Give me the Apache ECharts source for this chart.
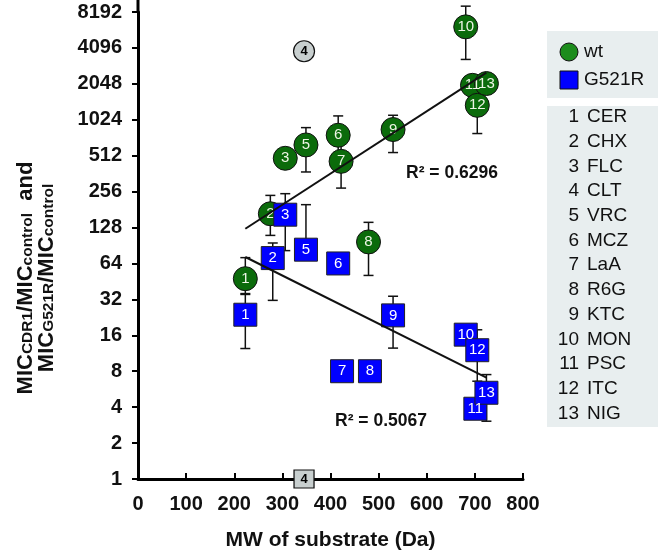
<!DOCTYPE html>
<html><head><meta charset="utf-8">
<script src="https://cdn.jsdelivr.net/npm/echarts@6/dist/echarts.min.js"></script>
<style>html,body{margin:0;padding:0;background:#fff}#c{width:666px;height:553px}</style>
</head><body><div id="c"></div>
<script>
// ---- data ----
const pointLabels = ['1','2','3','4','5','6','7','8','9','10','11','12','13'];
const compoundNames = ['CER','CHX','FLC','CLT','VRC','MCZ','LaA','R6G','KTC','MON','PSC','ITC','NIG'];
const grayIndex = 3; // CLT drawn in grey
const wtMW  = [223, 275, 306, 345, 349, 416, 422, 479, 530, 681, 695, 705, 724];
const wtMIC = [47.7, 167, 487, 3840, 630, 760, 459, 97, 848, 6150, 1990, 1353, 2060];
const wtErrHigh = [71.6, 238, null, null, 880, 1103, 644, 141.5, 1117, 9170, null, 1921, null];
const wtErrLow  = [35.2, 110, null, null, 374, 417, 274, 50.8, 544, 3280, null, 785, null];
const mutMW  = [223, 280, 306, 345, 349, 416, 424, 482, 530, 681, 701, 705, 724];
const mutMIC = [23.8, 71, 164, 1, 83.5, 64, 8, 8, 23.5, 16.2, 3.88, 12, 5.28];
const mutErrHigh = [35.8, 95, 246, null, 199, null, null, null, 34, null, null, 17.8, 7.5];
const mutErrLow  = [12.4, 31.4, 82, null, null, null, null, null, 12.5, null, null, 6.6, 3.05];
const wtTrendMW = [223, 724];
const wtTrendMIC = [125, 2545];
const mutTrendMW = [223, 724];
const mutTrendMIC = [72.5, 7.06];
const r2Labels = ['R\u00b2 = 0.6296', 'R\u00b2 = 0.5067'];
const seriesNames = ['wt', 'G521R'];
const yMin = 1, yMax = 8192;
const xMin = 0, xMax = 800, xStep = 100;

// ---- styles ----
const FONT = 'Liberation Sans, Arial, Helvetica, sans-serif';
const GREEN = '#0b6b0b', GREEN_LEG = '#1c8c1c', BLUE = '#0000ff', GRAY = '#c8cfcf';

const chart = echarts.init(document.getElementById('c'), null, {renderer: 'canvas'});

function pointData(mw, mic, isWt) {
  return mw.map((x, i) => {
    const gray = i === grayIndex;
    return {
      value: [x, mic[i]],
      name: pointLabels[i],
      itemStyle: gray ? {color: GRAY, borderColor: '#111', borderWidth: 1.2} : undefined,
      symbolSize: gray ? (isWt ? 21 : [20, 18]) : undefined,
      label: gray ? {color: '#000', fontWeight: 'bold', fontSize: 13} : undefined
    };
  });
}

function errSeries(mw, mic, hi, lo) {
  return {
    type: 'custom',
    z: 1,
    clip: false,
    silent: true,
    data: mw.map((x, i) => [x, mic[i]]),
    renderItem: function (params, api) {
      const i = params.dataIndex;
      const children = [];
      const c = api.coord([mw[i], mic[i]]);
      const cap = 5;
      [hi[i], lo[i]].forEach(v => {
        if (v == null) return;
        const p = api.coord([mw[i], v]);
        children.push({type: 'line', shape: {x1: c[0], y1: c[1], x2: p[0], y2: p[1]}, style: {stroke: '#111', lineWidth: 1.5}});
        children.push({type: 'line', shape: {x1: p[0] - cap, y1: p[1], x2: p[0] + cap, y2: p[1]}, style: {stroke: '#111', lineWidth: 1.5}});
      });
      return {type: 'group', children};
    }
  };
}

// legend graphics
const legendX = 547, legendW = 111;
const LFONT = '19px ' + FONT;
const graphics = [
  {type: 'rect', shape: {x: legendX, y: 31, width: legendW, height: 67}, style: {fill: '#e8eeef'}, z: 0},
  {type: 'circle', shape: {cx: 569, cy: 52, r: 9}, style: {fill: GREEN_LEG, stroke: '#111', lineWidth: 1}},
  {type: 'text', x: 584, y: 52, style: {text: seriesNames[0], font: LFONT, fill: '#111', textVerticalAlign: 'middle'}},
  {type: 'rect', shape: {x: 560, y: 71, width: 18, height: 18}, style: {fill: BLUE, stroke: '#111', lineWidth: 1}},
  {type: 'text', x: 584, y: 80, style: {text: seriesNames[1], font: LFONT, fill: '#111', textVerticalAlign: 'middle'}},
  {type: 'rect', shape: {x: legendX, y: 106, width: legendW, height: 321}, style: {fill: '#e8eeef'}, z: 0}
];
compoundNames.forEach((n, i) => {
  const y = 117 + i * 24.7;
  graphics.push({type: 'text', x: 579, y: y, style: {text: pointLabels[i], font: LFONT, fill: '#111', textAlign: 'right', textVerticalAlign: 'middle'}});
  graphics.push({type: 'text', x: 587, y: y, style: {text: n, font: LFONT, fill: '#111', textAlign: 'left', textVerticalAlign: 'middle'}});
});
// R² annotations
graphics.push({type: 'text', x: 452, y: 173, style: {text: r2Labels[0], font: 'bold 17.5px ' + FONT, fill: '#111', textAlign: 'center', textVerticalAlign: 'middle'}});
graphics.push({type: 'text', x: 381, y: 421, style: {text: r2Labels[1], font: 'bold 17.5px ' + FONT, fill: '#111', textAlign: 'center', textVerticalAlign: 'middle'}});
// y-axis title (rotated, with subscripts)
graphics.push({
  type: 'text', x: 36, y: 278, rotation: Math.PI / 2,
  style: {
    text: '{m|MIC}{s|CDR1}{m|/MIC}{s|control}{m|  and}\n{m|MIC}{s|G521R}{m|/MIC}{s|control}',
    textAlign: 'center', textVerticalAlign: 'middle', fill: '#111',
    rich: {
      m: {fontSize: 22, fontWeight: 'bold', fontFamily: FONT, lineHeight: 21, fill: '#111'},
      s: {fontSize: 15.5, fontWeight: 'bold', fontFamily: FONT, lineHeight: 13, verticalAlign: 'bottom', fill: '#111'}
    }
  }
});
// axis line extension above top tick
graphics.push({type: 'line', shape: {x1: 138, y1: 0, x2: 138, y2: 12}, style: {stroke: '#000', lineWidth: 3}});

const option = {
  animation: false,
  backgroundColor: '#fff',
  textStyle: {fontFamily: FONT},
  grid: {left: 138, right: 143, top: 12, bottom: 74, containLabel: false, outerBoundsMode: 'none'},
  xAxis: {
    type: 'value', min: xMin, max: xMax, interval: xStep,
    name: 'MW of substrate (Da)', nameLocation: 'middle', nameGap: 51,
    nameTextStyle: {fontSize: 21, fontWeight: 'bold', color: '#111', fontFamily: FONT},
    axisLine: {show: true, onZero: false, lineStyle: {color: '#000', width: 3}},
    axisTick: {show: true, inside: true, length: 6, lineStyle: {color: '#000', width: 2}},
    axisLabel: {fontSize: 20, fontWeight: 'bold', color: '#111', margin: 15, fontFamily: FONT},
    splitLine: {show: false}
  },
  yAxis: {
    type: 'log', logBase: 2, min: yMin, max: yMax, interval: 1,
    axisLine: {show: true, lineStyle: {color: '#000', width: 3}},
    axisTick: {show: true, inside: false, length: 6, lineStyle: {color: '#000', width: 2}},
    axisLabel: {fontSize: 20, fontWeight: 'bold', color: '#111', margin: 16, fontFamily: FONT,
      formatter: v => String(Math.round(v))},
    splitLine: {show: false}
  },
  graphic: graphics,
  series: [
    errSeries(wtMW, wtMIC, wtErrHigh, wtErrLow),
    errSeries(mutMW, mutMIC, mutErrHigh, mutErrLow),
    {
      name: seriesNames[0], type: 'scatter', z: 3, clip: false,
      symbol: 'circle', symbolSize: 24,
      itemStyle: {color: GREEN, borderColor: '#111', borderWidth: 1, opacity: 1},
      label: {show: true, position: 'inside', formatter: p => p.name, color: '#eef5e6', fontSize: 15, fontFamily: FONT},
      data: pointData(wtMW, wtMIC, true)
    },
    {
      name: seriesNames[1], type: 'scatter', z: 4, clip: false,
      symbol: 'rect', symbolSize: 23,
      itemStyle: {color: BLUE, borderColor: '#222', borderWidth: 1, opacity: 1},
      label: {show: true, position: 'inside', formatter: p => p.name, color: '#fff', fontSize: 15, fontFamily: FONT},
      data: pointData(mutMW, mutMIC, false)
    },
    {
      type: 'line', z: 5, symbol: 'none', silent: true,
      lineStyle: {color: '#111', width: 2},
      data: wtTrendMW.map((x, i) => [x, wtTrendMIC[i]])
    },
    {
      type: 'line', z: 5, symbol: 'none', silent: true,
      lineStyle: {color: '#111', width: 2},
      data: mutTrendMW.map((x, i) => [x, mutTrendMIC[i]])
    }
  ]
};
chart.setOption(option);
</script></body></html>
